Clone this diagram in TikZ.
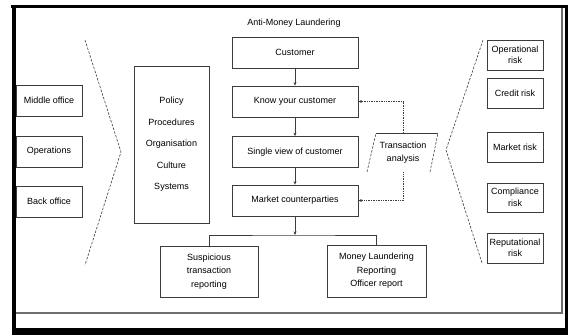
\documentclass[tikz,border=0pt]{standalone}
\usepackage{fontspec}
\setmainfont{Liberation Sans}
\usepackage{tikz}
\usetikzlibrary{arrows.meta}
\usepackage{xcolor}
\definecolor{framegrey}{RGB}{110,110,110}
\definecolor{linegrey}{RGB}{60,60,60}

\begin{document}
\begin{tikzpicture}[x=1pt,y=-1pt,>={Stealth[length=3.5pt,width=3pt]},
	box/.style={draw=linegrey,line width=0.8pt,text=black,inner sep=0pt,align=center,font=\fontsize{9}{11}\selectfont},
	chevron/.style={draw=linegrey,line width=0.6pt,dash pattern=on 2.5pt off 1.5pt},
	link/.style={draw=linegrey,line width=0.8pt},
	dots/.style={draw=linegrey,line width=0.7pt,densely dotted}]
	\useasboundingbox (0,0) rectangle (568,335);

	% frame
	\fill[black] (11,5) rectangle (568,8);
	\fill[black] (12,5) rectangle (16,335);
	\fill[black] (12,328) rectangle (568,335);
	\fill[black] (565,5) rectangle (568,335);
	\draw[framegrey,line width=1.2pt] (16,313) -- (562,313) -- (562,8);

	\node(title) at (294,23)[text=black,font=\fontsize{9}{11}\selectfont]{Anti-Money Laundering};

	% centre column
	\node(cust) at (295,52.5)[box,minimum width=126,minimum height=31]{Customer};
	\node(kyc) at (295,101.5)[box,minimum width=126,minimum height=31]{Know your customer};
	\node(view) at (295,152)[box,minimum width=126,minimum height=31]{Single view of customer};
	\node(mkt) at (295,200.5)[box,minimum width=126,minimum height=31]{Market counterparties};

	\node(susp) at (209,271.5)[box,minimum width=98,minimum height=51,font=\fontsize{9}{13.5}\selectfont]{Suspicious\\transaction\\reporting};
	\node(mlro) at (376.5,271)[box,minimum width=99,minimum height=52,font=\fontsize{9}{13.5}\selectfont]{Money Laundering\\Reporting\\Officer report};

	% left column
	\node(mid) at (49,100.5)[box,minimum width=66,minimum height=31]{Middle office};
	\node(ops) at (49,151.5)[box,minimum width=66,minimum height=31]{Operations};
	\node(back) at (49,201.5)[box,minimum width=66,minimum height=31]{Back office};

	\node(pol) at (171.5,144.5)[box,minimum width=75,minimum height=157,font=\fontsize{9}{21.5}\selectfont]{Policy\\Procedures\\Organisation\\Culture\\Systems};

	% right column
	\node(oprisk) at (515,55)[box,minimum width=56,minimum height=30,font=\fontsize{9}{11.5}\selectfont]{Operational\\risk};
	\node(credit) at (515,93)[box,minimum width=56,minimum height=30]{Credit risk};
	\node(mrisk) at (515,147)[box,minimum width=56,minimum height=30]{Market risk};
	\node(comp) at (515,197.5)[box,minimum width=56,minimum height=29,font=\fontsize{9}{11.5}\selectfont]{Compliance\\risk};
	\node(rep) at (515,248)[box,minimum width=56,minimum height=30,font=\fontsize{9}{11.5}\selectfont]{Reputational\\risk};

	% transaction analysis
	\node(ta) at (403,152.5)[box,draw=none,minimum width=62,minimum height=39,font=\fontsize{9}{13}\selectfont]{Transaction\\analysis};
	\draw[link,line width=0.6pt] (376,133) -- (438,133);
	\draw[chevron] (367,172) -- (376,133);
	\draw[chevron] (430,172) -- (438,133);

	% chevrons
	\draw[chevron] (85,40) -- (121,152) -- (85,265);
	\draw[chevron] (483,40) -- (446,150) -- (482,263);

	% connectors
	\coordinate(bar) at (295,235);
	\draw[link,->] (cust) -- (kyc);
	\draw[link,->] (kyc) -- (view);
	\draw[link,->] (view) -- (mkt);
	\draw[link,->] (mkt) -- (bar);
	\draw[link] (susp.north) |- (bar) -| (mlro.north);

	\draw[dots,->] (ta.north) |- (kyc.east);
	\draw[dots,->] (ta.south) |- (mkt.east);
\end{tikzpicture}
\end{document}
